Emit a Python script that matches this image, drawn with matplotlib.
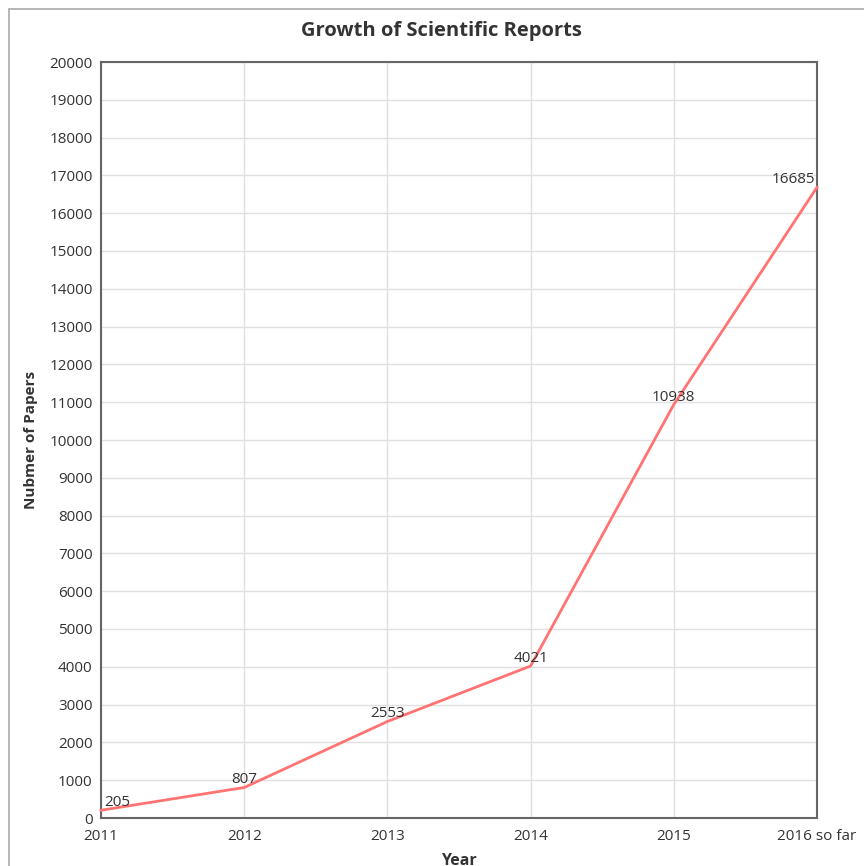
import matplotlib
matplotlib.use("Agg")
import matplotlib.pyplot as plt
from matplotlib.patches import Rectangle

categories = ["2011", "2012", "2013", "2014", "2015", "2016 so far"]
papers = [205, 807, 2553, 4021, 10938, 16685]
yticks = list(range(0, 20001, 1000))

plt.rcParams['font.family'] = ['Open Sans', 'DejaVu Sans']

fig = plt.figure(figsize=(8.64, 8.66), dpi=100)
ax = fig.add_axes([101/864, 1-818/866, (817-101)/864, (818-62)/866])

x = list(range(len(categories)))
ax.plot(x, papers, color="#ff7373", lw=2, zorder=3, clip_on=False)
ax.set_xlim(0, len(categories)-1)
ax.set_ylim(0, 20000)
ax.set_xticks(x)
ax.set_xticklabels(categories)
ax.set_yticks(yticks)
ax.set_yticklabels([str(v) for v in yticks])
ax.tick_params(length=0, labelsize=11, colors="#333333", pad=6)
ax.tick_params(axis="x", pad=8)
ax.grid(True, color="#e0e0e0", lw=1)
ax.set_axisbelow(True)
for s in ax.spines.values():
    s.set_color("#666666")
    s.set_linewidth(1.5)

for i, v in enumerate(papers):
    ha = "center"
    dx = 0
    if i == 0:
        ha = "left"
        dx = 2
    elif i == len(papers)-1:
        ha = "right"
        dx = -1
    ax.annotate(str(v), (i, v), xytext=(dx, 0), textcoords="offset points",
                ha=ha, va="bottom", fontsize=11, color="#333333")

fig.text(441/864, 1-31/866, "Growth of Scientific Reports", ha="center", va="center",
         fontsize=14.5, fontweight="bold", color="#333333")
fig.text(31/864, 1-440/866, "Nubmer of Papers", ha="center", va="center", rotation=90,
         fontsize=11, fontweight="bold", color="#333333")
fig.text(459/864, 1-853/866, "Year", ha="center", va="top",
         fontsize=11.5, fontweight="bold", color="#333333")

fig.patches.append(Rectangle((9/864, -0.1), 2, 1.1 - 9/866, transform=fig.transFigure,
                             fill=False, edgecolor="#aaaaaa", lw=1.2))

fig.savefig("out.png", dpi=100, facecolor="white")
